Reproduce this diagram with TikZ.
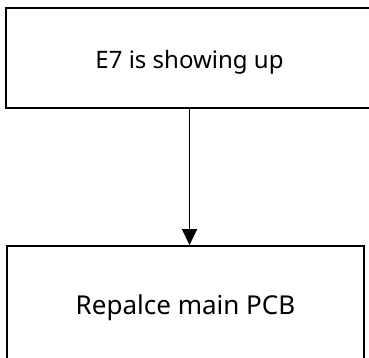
\documentclass[tikz,border=0pt]{standalone}
\usepackage{fontspec}
\setmainfont{Noto Sans}
\usetikzlibrary{arrows.meta}
\tikzset{
  flowbox/.style={draw, line width=1.9pt, inner sep=0pt, text depth=0pt},
  flowarrow/.style={line width=1.8pt, -{Triangle[length=16pt,width=15pt]}}
}
\begin{document}
\begin{tikzpicture}[x=1pt,y=-1pt]
  \useasboundingbox (0,0) rectangle (369,358);
  \clip (0,0) rectangle (369,358);
  %\draw (0,0) rectangle (369,358);
  \node [flowbox, minimum width=367, minimum height=100, text height=22pt,
         font=\fontsize{24}{28}\selectfont] (issue) at (189.5,58) {E7 is showing up};
  \node [flowbox, minimum width=357, minimum height=117, text height=19pt,
         font=\fontsize{26}{30}\selectfont] (fix) at (185.5,304.5) {Repalce main PCB};
  \draw [flowarrow] (issue.south) -- (issue.south |- fix.north);
\end{tikzpicture}
\end{document}
